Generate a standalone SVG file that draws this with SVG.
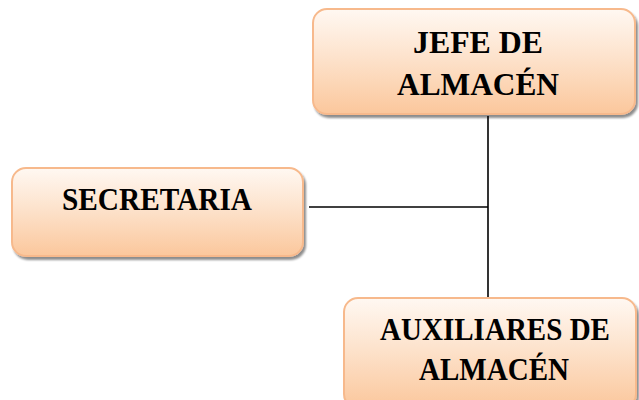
<svg xmlns="http://www.w3.org/2000/svg" width="639" height="400" viewBox="0 0 639 400">
  <defs>
    <linearGradient id="peach" x1="0" y1="0" x2="0" y2="1">
      <stop offset="0" stop-color="#fff8f2"/>
      <stop offset="0.45" stop-color="#fde3cd"/>
      <stop offset="1" stop-color="#fbc79c"/>
    </linearGradient>
    <filter id="shadow" x="-10%" y="-10%" width="120%" height="130%">
      <feGaussianBlur in="SourceAlpha" stdDeviation="1.2"/>
      <feOffset dx="2" dy="3" result="b"/>
      <feComponentTransfer><feFuncA type="linear" slope="0.45"/></feComponentTransfer>
      <feMerge><feMergeNode/><feMergeNode in="SourceGraphic"/></feMerge>
    </filter>
  </defs>
  <style>
    .box { fill: url(#peach); stroke: #f7b98c; stroke-width: 2; filter: url(#shadow); }
    .lbl { font-family: "Liberation Serif", "Times New Roman", serif; font-weight: bold; font-size: 31px; fill: #000; text-anchor: middle; }
    .wire { stroke: #000; stroke-width: 1.6; fill: none; }
  </style>

  <g id="connectors">
    <line class="wire" x1="488" y1="116" x2="488" y2="298"/>
    <line class="wire" x1="309" y1="207" x2="488" y2="207"/>
  </g>

  <g id="jefe">
    <rect class="box" x="313" y="9" width="322" height="105" rx="14"/>
    <text class="lbl" x="478" y="53" textLength="130" lengthAdjust="spacingAndGlyphs">JEFE DE</text>
    <text class="lbl" x="478" y="95" textLength="162" lengthAdjust="spacingAndGlyphs">ALMACÉN</text>
  </g>

  <g id="secretaria">
    <rect class="box" x="12" y="168" width="291" height="88" rx="14"/>
    <text class="lbl" x="157" y="210" textLength="190" lengthAdjust="spacingAndGlyphs">SECRETARIA</text>
  </g>

  <g id="auxiliares">
    <rect class="box" x="344" y="298" width="292" height="110" rx="14"/>
    <text class="lbl" x="495" y="340" textLength="230" lengthAdjust="spacingAndGlyphs">AUXILIARES DE</text>
    <text class="lbl" x="494" y="380" textLength="150" lengthAdjust="spacingAndGlyphs">ALMACÉN</text>
  </g>
</svg>
